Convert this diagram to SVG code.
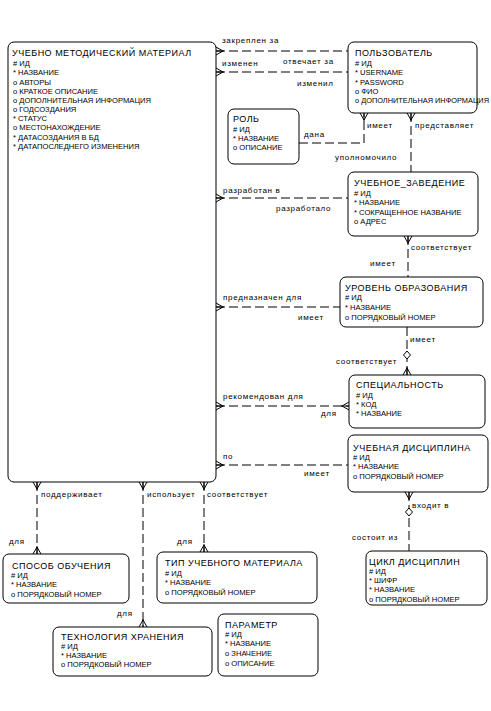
<svg xmlns="http://www.w3.org/2000/svg" width="491" height="711" viewBox="0 0 491 711">
<style>
.box{fill:#fff;stroke:#000;stroke-width:1}
.t{font-family:"Liberation Sans",Arial,sans-serif;font-size:9px;letter-spacing:0.5px;fill:#000}
.a{font-family:"Liberation Sans",Arial,sans-serif;font-size:7.6px;fill:#000}
.l{font-family:"Liberation Sans",Arial,sans-serif;font-size:8px;letter-spacing:0.7px;fill:#000}
.c{fill:none;stroke:#000;stroke-width:1;stroke-dasharray:9,4;marker-start:none}
.cs{marker-start:url(#crow)}
.ce{marker-end:url(#crow)}
.dia{fill:#fff;stroke:#000;stroke-width:1}
</style>
<defs>
<marker id="crow" markerUnits="userSpaceOnUse" markerWidth="12" markerHeight="12" viewBox="0 0 12 12" refX="8" refY="6" orient="auto-start-reverse">
<path d="M0,6 L8,6 M1,6 L8,2 M1,6 L8,10" fill="none" stroke="#000" stroke-width="1" stroke-dasharray="none"/>
</marker>
</defs>
<rect width="491" height="711" fill="#fff"/>

<g id="connectors">
<path class="c cs" d="M216,51 H348"/>
<path class="c cs" d="M216,72 H348"/>
<path class="c ce" d="M299,143 H364 V113"/>
<path class="c cs" d="M411,113 V172"/>
<path class="c cs" d="M216,198 H348"/>
<path class="c cs" d="M408,236 V277"/>
<path class="c cs" d="M216,307 H340"/>
<path class="c ce" d="M407,327 V375"/>
<polygon class="dia" points="407,351 410.5,355 407,359 403.5,355"/>
<path class="c cs ce" d="M216,406 H349"/>
<path class="c cs" d="M216,465 H348"/>
<path class="c cs" d="M409,492 V551"/>
<polygon class="dia" points="409,508 412.5,512 409,516 405.5,512"/>
<path class="c cs ce" d="M37,482 V554"/>
<path class="c cs ce" d="M143,482 V627"/>
<path class="c cs ce" d="M204,482 V552"/>
<text class="l" x="222" y="43">закреплен за</text>
<text class="l" x="222" y="66">изменен</text>
<text class="l" x="283" y="64">отвечает за</text>
<text class="l" x="297" y="86">изменил</text>
<text class="l" x="304" y="137">дана</text>
<text class="l" x="367" y="128">имеет</text>
<text class="l" x="415" y="128">представляет</text>
<text class="l" x="335" y="160">уполномочило</text>
<text class="l" x="223" y="193">разработан в</text>
<text class="l" x="276" y="211">разработало</text>
<text class="l" x="411" y="250">соответствует</text>
<text class="l" x="370" y="266">имеет</text>
<text class="l" x="223" y="300">предназначен для</text>
<text class="l" x="298" y="320">имеет</text>
<text class="l" x="410" y="342">имеет</text>
<text class="l" x="336" y="364">соответствует</text>
<text class="l" x="223" y="399">рекомендован для</text>
<text class="l" x="321" y="416">для</text>
<text class="l" x="223" y="459">по</text>
<text class="l" x="304" y="476">имеет</text>
<text class="l" x="412" y="508">входит в</text>
<text class="l" x="352" y="540">состоит из</text>
<text class="l" x="41" y="497">поддерживает</text>
<text class="l" x="147" y="497">использует</text>
<text class="l" x="207" y="497">соответствует</text>
<text class="l" x="9" y="544">для</text>
<text class="l" x="177" y="544">для</text>
<text class="l" x="117" y="616">для</text>
</g>

<g id="uchebno-metodicheskiy-material">
<rect class="box" x="8" y="42" width="208" height="440" rx="6"/>
<text class="t" x="12" y="56">УЧЕБНО МЕТОДИЧЕСКИЙ МАТЕРИАЛ</text>
<text class="a" x="13" y="66"># ИД</text>
<text class="a" x="13" y="75">* НАЗВАНИЕ</text>
<text class="a" x="13" y="84.5">o  АВТОРЫ</text>
<text class="a" x="13" y="93.5">o  КРАТКОЕ ОПИСАНИЕ</text>
<text class="a" x="13" y="102.5">o  ДОПОЛНИТЕЛЬНАЯ ИНФОРМАЦИЯ</text>
<text class="a" x="13" y="111.5">o  ГОДСОЗДАНИЯ</text>
<text class="a" x="13" y="121">* СТАТУС</text>
<text class="a" x="13" y="130">o  МЕСТОНАХОЖДЕНИЕ</text>
<text class="a" x="13" y="139.5">* ДАТАСОЗДАНИЯ В БД</text>
<text class="a" x="13" y="148.5">* ДАТАПОСЛЕДНЕГО ИЗМЕНЕНИЯ</text>
</g>

<g id="polzovatel">
<rect class="box" x="348" y="42" width="129" height="71" rx="6"/>
<text class="t" x="355" y="56">ПОЛЬЗОВАТЕЛЬ</text>
<text class="a" x="355" y="66"># ИД</text>
<text class="a" x="355" y="75">* USERNAME</text>
<text class="a" x="355" y="84.5">* PASSWORD</text>
<text class="a" x="355" y="94">o  ФИО</text>
<text class="a" x="355" y="103" textLength="134" lengthAdjust="spacingAndGlyphs">o ДОПОЛНИТЕЛЬНАЯ ИНФОРМАЦИЯ</text>
</g>

<g id="rol">
<rect class="box" x="228" y="109" width="71" height="55" rx="6"/>
<text class="t" x="233" y="122">РОЛЬ</text>
<text class="a" x="233" y="132"># ИД</text>
<text class="a" x="233" y="141">* НАЗВАНИЕ</text>
<text class="a" x="233" y="150">o  ОПИСАНИЕ</text>
</g>

<g id="uchebnoe-zavedenie">
<rect class="box" x="348" y="172" width="130" height="64" rx="6"/>
<text class="t" x="354" y="186">УЧЕБНОЕ_ЗАВЕДЕНИЕ</text>
<text class="a" x="354" y="196"># ИД</text>
<text class="a" x="354" y="205">* НАЗВАНИЕ</text>
<text class="a" x="354" y="214.5">* СОКРАЩЕННОЕ НАЗВАНИЕ</text>
<text class="a" x="354" y="224">o  АДРЕС</text>
</g>

<g id="uroven-obrazovaniya">
<rect class="box" x="340" y="277" width="143" height="50" rx="6"/>
<text class="t" x="345" y="291">УРОВЕНЬ ОБРАЗОВАНИЯ</text>
<text class="a" x="345" y="300"># ИД</text>
<text class="a" x="345" y="310">* НАЗВАНИЕ</text>
<text class="a" x="345" y="320">o  ПОРЯДКОВЫЙ НОМЕР</text>
</g>

<g id="specialnost">
<rect class="box" x="349" y="375" width="136" height="53" rx="6"/>
<text class="t" x="356" y="388">СПЕЦИАЛЬНОСТЬ</text>
<text class="a" x="356" y="398"># ИД</text>
<text class="a" x="356" y="407">*  КОД</text>
<text class="a" x="356" y="416">* НАЗВАНИЕ</text>
</g>

<g id="uchebnaya-disciplina">
<rect class="box" x="348" y="435" width="140" height="57" rx="6"/>
<text class="t" x="353" y="451">УЧЕБНАЯ ДИСЦИПЛИНА</text>
<text class="a" x="353" y="460"># ИД</text>
<text class="a" x="353" y="469">* НАЗВАНИЕ</text>
<text class="a" x="353" y="478.5">o  ПОРЯДКОВЫЙ НОМЕР</text>
</g>

<g id="cikl-disciplin">
<rect class="box" x="366" y="551" width="121" height="54" rx="6"/>
<text class="t" x="369" y="565">ЦИКЛ ДИСЦИПЛИН</text>
<text class="a" x="369" y="573.5"># ИД</text>
<text class="a" x="369" y="583">*  ШИФР</text>
<text class="a" x="369" y="592">* НАЗВАНИЕ</text>
<text class="a" x="369" y="601.5">o  ПОРЯДКОВЫЙ НОМЕР</text>
</g>

<g id="sposob-obucheniya">
<rect class="box" x="3" y="554" width="126" height="49" rx="6"/>
<text class="t" x="12" y="569">СПОСОБ ОБУЧЕНИЯ</text>
<text class="a" x="11" y="577.5"># ИД</text>
<text class="a" x="11" y="587">* НАЗВАНИЕ</text>
<text class="a" x="11" y="596.5">o  ПОРЯДКОВЫЙ НОМЕР</text>
</g>

<g id="tip-uchebnogo-materiala">
<rect class="box" x="157" y="552" width="160" height="51" rx="6"/>
<text class="t" x="165" y="566">ТИП УЧЕБНОГО МАТЕРИАЛА</text>
<text class="a" x="165" y="575.5"># ИД</text>
<text class="a" x="165" y="585">* НАЗВАНИЕ</text>
<text class="a" x="165" y="595">o  ПОРЯДКОВЫЙ НОМЕР</text>
</g>

<g id="tehnologiya-hraneniya">
<rect class="box" x="53" y="627" width="159" height="49" rx="6"/>
<text class="t" x="61" y="640">ТЕХНОЛОГИЯ ХРАНЕНИЯ</text>
<text class="a" x="61" y="648.5"># ИД</text>
<text class="a" x="61" y="657.5">* НАЗВАНИЕ</text>
<text class="a" x="61" y="667">o  ПОРЯДКОВЫЙ НОМЕР</text>
</g>

<g id="parametr">
<rect class="box" x="218" y="614" width="100" height="62" rx="6"/>
<text class="t" x="225" y="628">ПАРАМЕТР</text>
<text class="a" x="225" y="637"># ИД</text>
<text class="a" x="225" y="646">* НАЗВАНИЕ</text>
<text class="a" x="225" y="656">o  ЗНАЧЕНИЕ</text>
<text class="a" x="225" y="665.5">o  ОПИСАНИЕ</text>
</g>
</svg>
